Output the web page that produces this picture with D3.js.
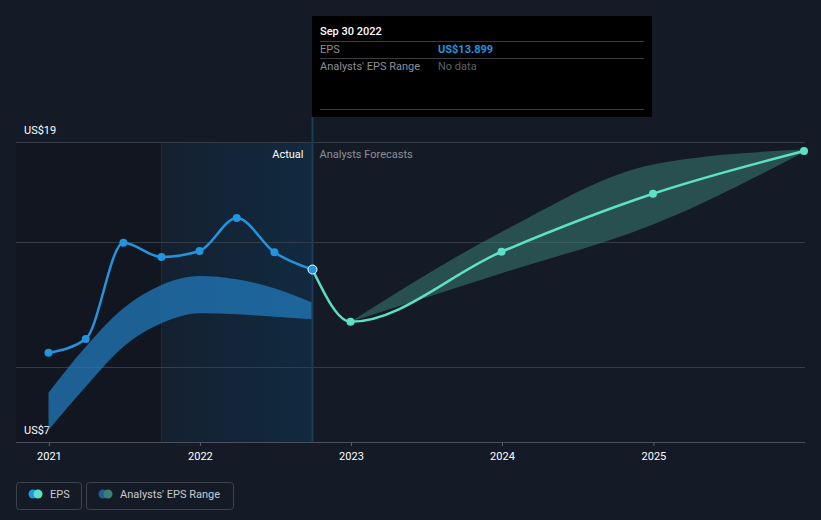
<!DOCTYPE html>
<html><head><meta charset="utf-8">
<script src="https://cdn.jsdelivr.net/npm/d3@7/dist/d3.min.js"></script>
<style>
html,body{margin:0;padding:0;background:#151b26;}
svg{display:block;font-family:Roboto,"Noto Sans",sans-serif;}
</style></head><body>
<svg id="c" width="821" height="520"></svg>
<script>
const actualDates = ["2020-12-31","2021-03-31","2021-06-30","2021-09-30","2021-12-31","2022-03-31","2022-06-30","2022-09-30"];
const actualEps = [10.57, 11.12, 14.97, 14.40, 14.64, 15.96, 14.59, 13.899];
const pastRangeHigh = [8.97, 10.81, 12.35, 13.28, 13.64, 13.51, 13.15, 12.57];
const pastRangeLow = [7.48, 9.21, 10.81, 11.75, 12.15, 12.11, 12.01, 11.91];
const forecastDates = ["2022-09-30","2022-12-31","2023-12-31","2024-12-31","2025-12-31"];
const forecastEps = [13.899, 11.81, 14.61, 16.93, 18.64];
const forecastHigh = [null, 11.81, 15.40, 18.10, 18.70];
const forecastLow = [null, 11.81, 13.75, 15.70, 18.60];
const yTicks = [7, 10, 15, 19];
const yTickLabels = ["US$7", "", "", "US$19"];
const xTickYears = [2021, 2022, 2023, 2024, 2025];

const parse = d3.utcParse("%Y-%m-%d");
const svg = d3.select("#c");
const x = d3.scaleUtc().domain([parse("2020-12-31"), parse("2025-12-31")]).range([48.5, 804]);
const y = d3.scaleLinear().domain([7, 19]).range([442, 142]);
const left = 16, right = 805;

const defs = svg.append("defs");
const g1 = defs.append("linearGradient").attr("id","hl").attr("x1","0").attr("x2","1").attr("y1","0").attr("y2","0");
g1.append("stop").attr("offset","0").attr("stop-color","#142030");
g1.append("stop").attr("offset","1").attr("stop-color","#112a40");

const xSep21 = x(parse("2021-09-30")), xSep22 = x(parse("2022-09-30"));
// darker past area
svg.append("rect").attr("x", left).attr("y", 142).attr("width", xSep21 - left).attr("height", 300).attr("fill", "#111620");
svg.append("rect").attr("x", xSep21).attr("y", 142).attr("width", xSep22 - xSep21).attr("height", 300).attr("fill", "url(#hl)");
svg.append("line").attr("x1", xSep21).attr("x2", xSep21).attr("y1", 142).attr("y2", 442).attr("stroke", "#1d2c3c").attr("stroke-width", 1);

// gridlines
svg.append("g").selectAll("line").data(yTicks).join("line")
  .attr("x1", left).attr("x2", right).attr("y1", d => Math.round(y(d)) + 0.5).attr("y2", d => Math.round(y(d)) + 0.5)
  .attr("stroke", d => d === 7 ? "#4a505a" : "#363c47").attr("stroke-width", 1);

// y labels
svg.append("g").selectAll("text").data(yTicks.map((v,i)=>({v, t: yTickLabels[i]})).filter(d=>d.t)).join("text")
  .attr("x", 24).attr("y", d => y(d.v) - 8).attr("fill", "#ffffff").attr("font-size", 11).text(d => d.t);

// x axis
const xAxis = d3.axisBottom(x).tickValues(xTickYears.map(yr => parse(yr + "-01-01"))).tickFormat(d3.utcFormat("%Y")).tickSize(4).tickPadding(6);
const ax = svg.append("g").attr("transform", "translate(0,442)").call(xAxis);
ax.select(".domain").remove();
ax.selectAll(".tick line").attr("stroke", "#5a606a");
ax.selectAll(".tick text").attr("fill", "#ffffff").attr("font-size", 11).attr("font-family", "Roboto, sans-serif");

// past range band
const pastBand = actualDates.map((d,i) => ({d: parse(d), h: pastRangeHigh[i], l: pastRangeLow[i]}));
svg.append("path").datum(pastBand)
  .attr("d", d3.area().curve(d3.curveMonotoneX).x(d => x(d.d)).y0(d => y(d.l)).y1(d => y(d.h)))
  .attr("fill", "#2179bb").attr("fill-opacity", 0.75);

// forecast band
const fBand = forecastDates.map((d,i) => ({d: parse(d), h: forecastHigh[i], l: forecastLow[i]})).filter(d => d.h !== null);
svg.append("path").datum(fBand)
  .attr("d", d3.area().curve(d3.curveMonotoneX).x(d => x(d.d)).y0(d => y(d.l)).y1(d => y(d.h)))
  .attr("fill", "#3b7b72").attr("fill-opacity", 0.55);

// highlight vertical line
svg.append("line").attr("x1", xSep22).attr("x2", xSep22).attr("y1", 117).attr("y2", 442).attr("stroke", "#1b3d5a").attr("stroke-width", 2);

// lines
const act = actualDates.map((d,i) => ({d: parse(d), v: actualEps[i]}));
const fc = forecastDates.map((d,i) => ({d: parse(d), v: forecastEps[i]}));
const line = d3.line().curve(d3.curveMonotoneX).x(d => x(d.d)).y(d => y(d.v));
svg.append("path").datum(fc).attr("d", line).attr("fill", "none").attr("stroke", "#5de0c6").attr("stroke-width", 2.5);
svg.append("path").datum(act).attr("d", line).attr("fill", "none").attr("stroke", "#2394df").attr("stroke-width", 2.5);

svg.append("g").selectAll("circle").data(fc.slice(1)).join("circle")
  .attr("cx", d => x(d.d)).attr("cy", d => y(d.v)).attr("r", 4).attr("fill", "#5de0c6");
svg.append("g").selectAll("circle").data(act.slice(0, -1)).join("circle")
  .attr("cx", d => x(d.d)).attr("cy", d => y(d.v)).attr("r", 4).attr("fill", "#2394df");
const lastA = act[act.length - 1];
svg.append("circle").attr("cx", x(lastA.d)).attr("cy", y(lastA.v)).attr("r", 4.5).attr("fill", "#2394df").attr("stroke", "#ffffff").attr("stroke-width", 1);

// Actual / Forecast labels
svg.append("text").attr("x", xSep22 - 9).attr("y", 158).attr("text-anchor", "end").attr("fill", "#ffffff").attr("font-size", 11).text("Actual");
svg.append("text").attr("x", xSep22 + 7).attr("y", 158).attr("fill", "#8a8f98").attr("font-size", 11).text("Analysts Forecasts");

// tooltip
const tt = svg.append("g");
tt.append("rect").attr("x", 312).attr("y", 16).attr("width", 340).attr("height", 101).attr("fill", "#000000");
tt.append("text").attr("x", 320).attr("y", 35).attr("fill", "#ffffff").attr("font-size", 11).attr("font-weight", 500).text("Sep 30 2022");
[41.5, 58.5, 109.5].forEach(yy => tt.append("line").attr("x1", 320).attr("x2", 644).attr("y1", yy).attr("y2", yy).attr("stroke", "#3a3d42"));
tt.append("text").attr("x", 320).attr("y", 53).attr("fill", "#8a8f98").attr("font-size", 11).text("EPS");
tt.append("text").attr("x", 438).attr("y", 53).attr("fill", "#2394df").attr("font-size", 11).attr("font-weight", 700).text("US$" + actualEps[actualEps.length - 1]);
tt.append("text").attr("x", 320).attr("y", 70).attr("fill", "#8a8f98").attr("font-size", 11).text("Analysts' EPS Range");
tt.append("text").attr("x", 438).attr("y", 70).attr("fill", "#5d6168").attr("font-size", 11).text("No data");

// legend
const lg = svg.append("g");
const items = [{x: 16, w: 65, t: "EPS", c1: "#2394df", c2: "#5de0c6", tx: 50},
               {x: 86, w: 147, t: "Analysts' EPS Range", c1: "#1f5f8f", c2: "#3b7f77", tx: 120}];
items.forEach(it => {
  lg.append("rect").attr("x", it.x + 0.5).attr("y", 482.5).attr("width", it.w).attr("height", 27).attr("rx", 3)
    .attr("fill", "none").attr("stroke", "#3e434c");
  lg.append("circle").attr("cx", it.x + 17).attr("cy", 494).attr("r", 4.5).attr("fill", it.c1);
  lg.append("circle").attr("cx", it.x + 22).attr("cy", 494).attr("r", 4.5).attr("fill", it.c2);
  lg.append("text").attr("x", it.tx).attr("y", 498).attr("fill", "#c8cbd0").attr("font-size", 11).text(it.t);
});
</script>
</body></html>
